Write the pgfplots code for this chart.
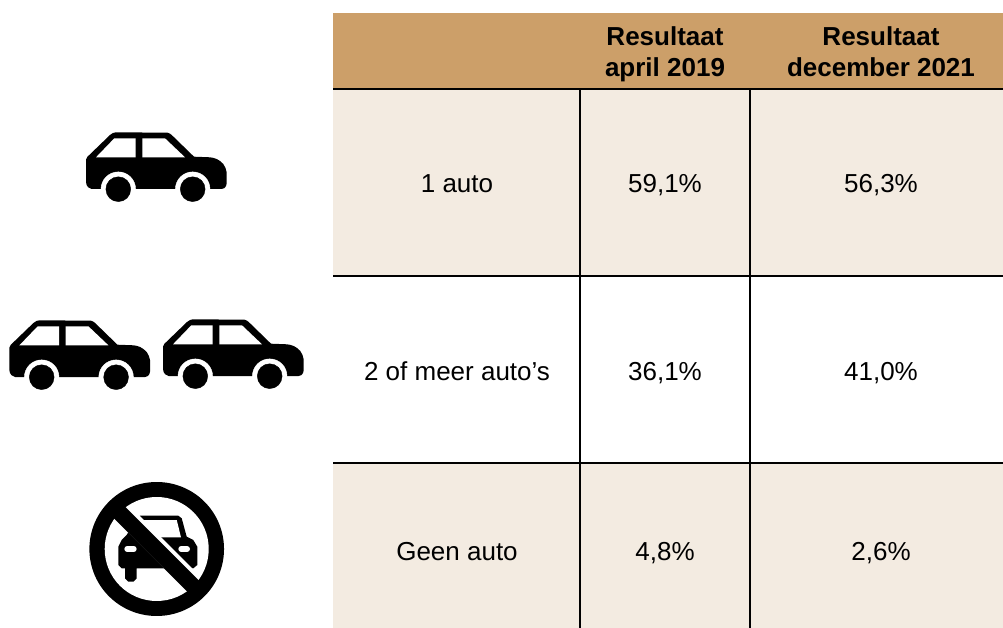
\documentclass[border=0pt]{standalone}
\usepackage{fontspec}
\setmainfont{Liberation Sans}
\usepackage{pgfplots}
\usepackage{pgfplotstable}
\pgfplotsset{compat=1.18}
\definecolor{headbrown}{RGB}{204,159,105}
\definecolor{lightbrown}{RGB}{243,235,225}
\tikzset{
  cellbody/.style={font=\fontsize{26}{30}\selectfont,text=black,inner sep=0pt,anchor=base},
  cellhead/.style={font=\fontsize{26}{30}\selectfont\bfseries,text=black,inner sep=0pt,anchor=base},
}

% car outline, in image pixels
\pgfplotstableread{
x y
86 159.5
86 182
86.6 185
88.2 187.3
91.7 189
221.7 189
224.5 188
226 186
226.7 183.3
226.7 172.5
225.5 168
223.3 164
220 161
216.7 159
213 157.8
210 157.3
194 156.7
171.7 135
170 133.7
167.5 132.7
116 132.3
113 133
110 135
87.5 156.7
}\carbody
\pgfplotstableread{
x y
96 157.3
114.3 138.3
135.7 138.3
135.7 157.3
}\winleft
\pgfplotstableread{
x y
142.3 138.3
165 138.3
185 157.3
142.3 157.3
}\winright
\pgfplotstableread{
x y
118.3 189.2
192.7 189.2
}\wheels

\newcommand{\car}[2]{%
  \addplot[fill=black,draw=none] table[x expr=\thisrow{x}+#1,y expr=\thisrow{y}+#2]{\carbody};
  \addplot[fill=white,draw=none] table[x expr=\thisrow{x}+#1,y expr=\thisrow{y}+#2]{\winleft};
  \addplot[fill=white,draw=none] table[x expr=\thisrow{x}+#1,y expr=\thisrow{y}+#2]{\winright};
  \addplot[only marks,mark=*,mark size=17.3pt,mark options={fill=white,draw=white}] table[x expr=\thisrow{x}+#1,y expr=\thisrow{y}+#2]{\wheels};
  \addplot[only marks,mark=*,mark size=12.4pt,mark options={fill=black,draw=black}] table[x expr=\thisrow{x}+#1,y expr=\thisrow{y}+#2]{\wheels};
}

\begin{document}
\begin{tikzpicture}
\begin{axis}[
  width=1003pt,height=628pt,scale only axis,
  xmin=0,xmax=1003,ymin=0,ymax=628,y dir=reverse,
  hide axis,
]
\addplot[fill=white,draw=none] coordinates {(0,0)(1003,0)(1003,628)(0,628)};
% table cells
\addplot[fill=headbrown,draw=none] coordinates {(333,13)(1003,13)(1003,89)(333,89)};
\addplot[fill=lightbrown,draw=none] coordinates {(333,89)(1003,89)(1003,276)(333,276)};
\addplot[fill=lightbrown,draw=none] coordinates {(333,463)(1003,463)(1003,628)(333,628)};
% rules
\addplot[black,line width=2.2pt] coordinates {(333,89)(1003,89)};
\addplot[black,line width=1.5pt] coordinates {(333,276)(1003,276)};
\addplot[black,line width=1.5pt] coordinates {(333,463)(1003,463)};
\addplot[black,line width=1.5pt] coordinates {(580,89)(580,628)};
\addplot[black,line width=1.5pt] coordinates {(750,89)(750,628)};
% cars
\car{0}{0}
\car{-76.6}{188}
\car{77}{187}
% no-car sign
\addplot[black,line width=134.6pt,line cap=round] coordinates {(156.7,549)(156.72,549)};
\addplot[white,line width=104pt,line cap=round] coordinates {(156.7,549)(156.72,549)};
\addplot[fill=black,draw=none] coordinates {(118.3,565)(118.3,546.7)(121.7,540)(126.7,535)(135,520)(140,515.7)(178.3,515.7)(181.7,518.3)(186.7,536.7)(193.3,540)(197.3,546.7)(197.3,565)(193.3,568.3)(136.7,568.3)(136.7,578.3)(133.3,581.7)(128.3,581.7)(125,578.3)(125,568.3)(121.7,568.3)};
\addplot[fill=white,draw=none] coordinates {(141.7,520)(176.7,520)(181,537.3)(156.7,537.3)};
\addplot[white,line width=6pt,line cap=round] coordinates {(127.3,549)(133.7,549)};
\addplot[white,line width=6pt,line cap=round] coordinates {(181.3,549)(187,549)};
\addplot[fill=white,draw=none] coordinates {(122,526)(136,512)(196,572)(182,586)};
\addplot[fill=black,draw=none] coordinates {(111.7,516)(123.3,505)(201.7,583.3)(188.3,592.7)};
% text
\node[cellhead] at (axis cs:665,46) {Resultaat};
\node[cellhead] at (axis cs:665,77) {april 2019};
\node[cellhead] at (axis cs:881,46) {Resultaat};
\node[cellhead] at (axis cs:881,77) {december 2021};
\node[cellbody] at (axis cs:457,193) {1 auto};
\node[cellbody] at (axis cs:665,193) {59,1\%};
\node[cellbody] at (axis cs:881,193) {56,3\%};
\node[cellbody] at (axis cs:457,380) {2 of meer auto’s};
\node[cellbody] at (axis cs:665,380) {36,1\%};
\node[cellbody] at (axis cs:881,380) {41,0\%};
\node[cellbody] at (axis cs:457,560) {Geen auto};
\node[cellbody] at (axis cs:665,560) {4,8\%};
\node[cellbody] at (axis cs:881,560) {2,6\%};
\end{axis}
\end{tikzpicture}
\end{document}
